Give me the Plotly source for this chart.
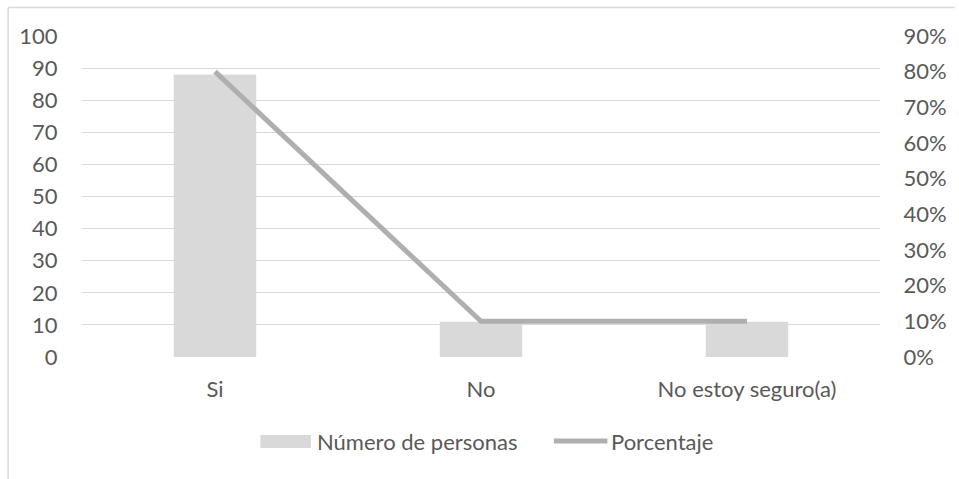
import plotly.graph_objects as go

categories = ["Si", "No", "No estoy seguro(a)"]
personas = [88, 11, 11]
porcentaje = [0.80, 0.10, 0.10]
series_names = ["Número de personas", "Porcentaje"]

W, H = 959, 479
L, R, T, B = 82, 72, 36, 122
pw, ph = W - L - R, H - T - B

def px(x):
    return (x - L) / pw

def py(y):
    return (H - B - y) / ph

FONT = "Lato"
TXT = "#595959"
BAR = "#d9d9d9"
LINE = "#afafaf"
GRID = "#d9d9d9"
FS = 22

fig = go.Figure()
fig.add_trace(go.Bar(x=categories, y=personas, name=series_names[0],
                     marker=dict(color=BAR, line=dict(width=0)), width=0.31,
                     showlegend=False, yaxis="y"))
fig.add_trace(go.Scatter(x=categories, y=porcentaje, name=series_names[1],
                         mode="lines", line=dict(color=LINE, width=5),
                         showlegend=False, yaxis="y2"))

shapes = [
    dict(type="line", xref="paper", yref="paper", x0=px(7.5), x1=px(962),
         y0=py(7.5), y1=py(7.5), line=dict(color=GRID, width=1.5), layer="below"),
    dict(type="line", xref="paper", yref="paper", x0=px(7.5), x1=px(7.5),
         y0=py(7.5), y1=py(482), line=dict(color=GRID, width=1.5), layer="below"),
    dict(type="rect", xref="paper", yref="paper", x0=px(262), x1=px(313),
         y0=py(448), y1=py(435), fillcolor=BAR, line=dict(width=0)),
    dict(type="line", xref="paper", yref="paper", x0=px(558), x1=px(612),
         y0=py(441), y1=py(441), line=dict(color=LINE, width=5)),
]
annotations = [
    dict(text=series_names[0], xref="paper", yref="paper", x=px(317), y=py(441),
         xanchor="left", yanchor="middle", showarrow=False,
         font=dict(family=FONT, size=FS, color=TXT)),
    dict(text=series_names[1], xref="paper", yref="paper", x=px(614), y=py(441),
         xanchor="left", yanchor="middle", showarrow=False,
         font=dict(family=FONT, size=FS, color=TXT)),
]

fig.update_layout(
    width=W, height=H,
    margin=dict(l=L, r=R, t=T, b=B, pad=0),
    paper_bgcolor="white", plot_bgcolor="white",
    font=dict(family=FONT, size=FS, color=TXT),
    bargap=0.69,
    xaxis=dict(showgrid=False, zeroline=False, showline=False,
               ticks="outside", ticklen=13, tickcolor="rgba(0,0,0,0)",
               tickfont=dict(family=FONT, size=FS, color=TXT)),
    yaxis=dict(range=[0, 100], dtick=10, showgrid=True, gridcolor=GRID, gridwidth=1.3,
               zeroline=False, showline=False,
               ticks="outside", ticklen=19, tickcolor="rgba(0,0,0,0)",
               tickfont=dict(family=FONT, size=FS, color=TXT)),
    yaxis2=dict(range=[0, 0.9], dtick=0.1, tickformat=".0%", overlaying="y",
                side="right", showgrid=False, zeroline=False, showline=False,
                ticks="outside", ticklen=18, tickcolor="rgba(0,0,0,0)",
                tickfont=dict(family=FONT, size=FS, color=TXT)),
    shapes=shapes, annotations=annotations,
)

fig.write_html("out.html")
